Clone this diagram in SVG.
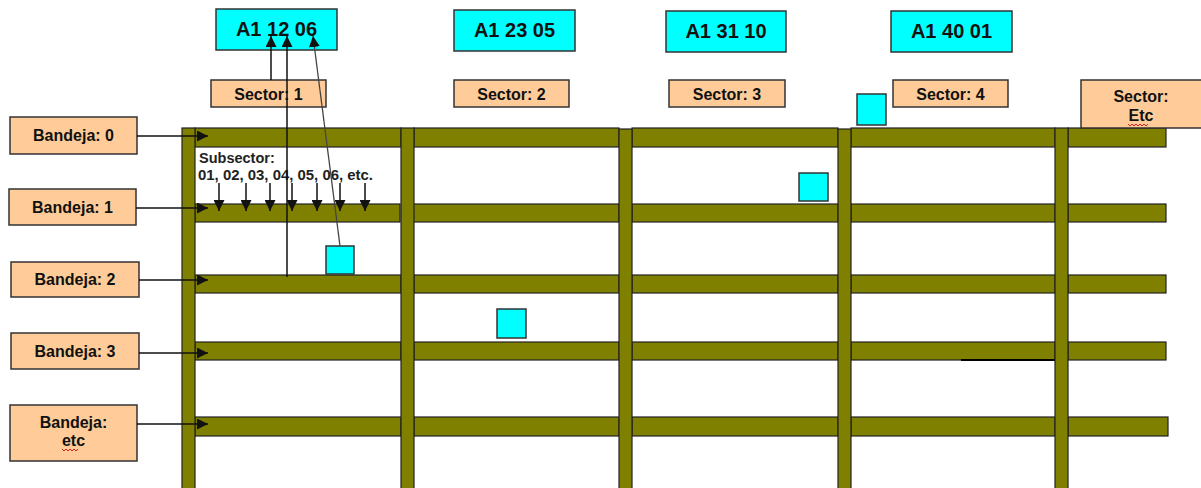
<svg xmlns="http://www.w3.org/2000/svg" width="1201" height="488" viewBox="0 0 1201 488">
<style>
.code{fill:#00FFFF;stroke:#333;stroke-width:1.5}
.lbl{fill:#FFCC99;stroke:#333;stroke-width:1.5}
.beam{fill:#808000;stroke:#222;stroke-width:1.2}
.sq{fill:#00FFFF;stroke:#333;stroke-width:1.5}
.t{font-family:"Liberation Sans",Arial,sans-serif;font-weight:bold;fill:#111;text-anchor:middle}
.t19{font-size:20px}
.t16{font-size:16px}
.sub{font-family:"Liberation Sans",Arial,sans-serif;font-weight:bold;font-size:14.5px;fill:#222}
.ln{stroke:#111;stroke-width:1.5;fill:none}
.wave{stroke:#e02020;stroke-width:1;fill:none}
</style>
<defs>
<marker id="ah" markerUnits="userSpaceOnUse" markerWidth="11" markerHeight="11" viewBox="0 0 10 10" refX="10" refY="5" orient="auto">
<path d="M0,0 L10,5 L0,10 z" fill="#111"/>
</marker>
</defs>
<rect width="1201" height="488" fill="#fff"/>

<g id="structure">
<rect class="beam" x="195" y="128" width="206" height="19"/>
<rect class="beam" x="414" y="128" width="205" height="19"/>
<rect class="beam" x="632" y="128" width="206" height="19"/>
<rect class="beam" x="851" y="128" width="204" height="19"/>
<rect class="beam" x="1068" y="128" width="98" height="19"/>

<rect class="beam" x="195" y="204" width="205" height="18"/>
<rect class="beam" x="413" y="204" width="206" height="18"/>
<rect class="beam" x="632" y="204" width="206" height="18"/>
<rect class="beam" x="851" y="204" width="204" height="18"/>
<rect class="beam" x="1068" y="204" width="98" height="18"/>

<rect class="beam" x="195" y="275" width="206" height="18"/>
<rect class="beam" x="414" y="275" width="205" height="18"/>
<rect class="beam" x="632" y="275" width="206" height="18"/>
<rect class="beam" x="851" y="275" width="204" height="18"/>
<rect class="beam" x="1068" y="275" width="98" height="18"/>

<rect class="beam" x="195" y="342" width="206" height="18"/>
<rect class="beam" x="414" y="342" width="205" height="18"/>
<rect class="beam" x="632" y="342" width="206" height="18"/>
<rect class="beam" x="851" y="342" width="204" height="18"/>
<rect class="beam" x="1068" y="342" width="98" height="18"/>
<line x1="961" y1="360" x2="1055" y2="360" stroke="#000" stroke-width="2"/>

<rect class="beam" x="195" y="417" width="206" height="19"/>
<rect class="beam" x="414" y="417" width="205" height="19"/>
<rect class="beam" x="632" y="417" width="206" height="19"/>
<rect class="beam" x="851" y="417" width="204" height="19"/>
<rect class="beam" x="1068" y="417" width="100" height="19"/>

<rect class="beam" x="182" y="128" width="13" height="362"/>
<rect class="beam" x="401" y="128" width="13" height="362"/>
<rect class="beam" x="619" y="129" width="13" height="361"/>
<rect class="beam" x="838" y="129" width="13" height="361"/>
<rect class="beam" x="1055" y="128" width="13" height="362"/>
</g>

<g id="code-1"><rect class="code" x="216" y="9" width="121" height="41"/><text class="t t19" x="276.5" y="36">A1 12 06</text></g>
<g id="code-2"><rect class="code" x="454" y="10" width="121" height="41"/><text class="t t19" x="514.5" y="37">A1 23 05</text></g>
<g id="code-3"><rect class="code" x="666" y="11" width="120" height="41"/><text class="t t19" x="726" y="38">A1 31 10</text></g>
<g id="code-4"><rect class="code" x="891" y="11" width="121" height="41"/><text class="t t19" x="951.5" y="38">A1 40 01</text></g>

<g id="sector-1"><rect class="lbl" x="211" y="80" width="115" height="27"/><text class="t t16" x="268.5" y="100">Sector: 1</text></g>
<g id="sector-2"><rect class="lbl" x="454" y="80" width="115" height="27"/><text class="t t16" x="511.5" y="100">Sector: 2</text></g>
<g id="sector-3"><rect class="lbl" x="669" y="80" width="116" height="27"/><text class="t t16" x="727" y="100">Sector: 3</text></g>
<g id="sector-4"><rect class="lbl" x="893" y="80" width="115" height="27"/><text class="t t16" x="950.5" y="100">Sector: 4</text></g>
<g id="sector-etc"><rect class="lbl" x="1081" y="80" width="122" height="48"/><text class="t t16" x="1141" y="102">Sector:</text><text class="t t16" x="1141" y="121">Etc</text><path class="wave" d="M1128,124 l2,2 l2,-2 l2,2 l2,-2 l2,2 l2,-2 l2,2 l2,-2 l2,2 l2,-2"/></g>

<g id="bandeja-0"><rect class="lbl" x="10" y="117" width="127" height="37"/><text class="t t16" x="73.5" y="141">Bandeja: 0</text></g>
<g id="bandeja-1"><rect class="lbl" x="9" y="189" width="127" height="36"/><text class="t t16" x="72.5" y="213">Bandeja: 1</text></g>
<g id="bandeja-2"><rect class="lbl" x="11" y="262" width="128" height="35"/><text class="t t16" x="75" y="285">Bandeja: 2</text></g>
<g id="bandeja-3"><rect class="lbl" x="11" y="333" width="128" height="36"/><text class="t t16" x="75" y="357">Bandeja: 3</text></g>
<g id="bandeja-etc"><rect class="lbl" x="10" y="405" width="127" height="56"/><text class="t t16" x="73.5" y="428">Bandeja:</text><text class="t t16" x="73.5" y="446">etc</text><path class="wave" d="M62,449 l2,2 l2,-2 l2,2 l2,-2 l2,2 l2,-2 l2,2 l2,-2"/></g>

<g id="subsector-label"><text class="sub" x="199" y="163">Subsector:</text><text class="sub" x="198" y="180" textLength="175" lengthAdjust="spacingAndGlyphs">01, 02, 03, 04, 05, 06, etc.</text></g>

<g id="boxes">
<rect class="sq" x="857" y="94" width="29" height="31"/>
<rect class="sq" x="799" y="173" width="29" height="28"/>
<rect class="sq" x="326" y="246" width="28" height="28"/>
<rect class="sq" x="497" y="309" width="29" height="29"/>
</g>

<g id="connectors">
<line class="ln" x1="137" y1="136" x2="208" y2="136" marker-end="url(#ah)"/>
<line class="ln" x1="136" y1="208" x2="208" y2="208" marker-end="url(#ah)"/>
<line class="ln" x1="139" y1="280" x2="208" y2="280" marker-end="url(#ah)"/>
<line class="ln" x1="139" y1="353" x2="208" y2="353" marker-end="url(#ah)"/>
<line class="ln" x1="137" y1="424" x2="208" y2="424" marker-end="url(#ah)"/>

<line class="ln" x1="219" y1="183" x2="219" y2="211" marker-end="url(#ah)"/>
<line class="ln" x1="246" y1="183" x2="246" y2="211" marker-end="url(#ah)"/>
<line class="ln" x1="270" y1="183" x2="270" y2="211" marker-end="url(#ah)"/>
<line class="ln" x1="292" y1="183" x2="292" y2="211" marker-end="url(#ah)"/>
<line class="ln" x1="317" y1="183" x2="317" y2="211" marker-end="url(#ah)"/>
<line class="ln" x1="340" y1="183" x2="340" y2="211" marker-end="url(#ah)"/>
<line class="ln" x1="365" y1="183" x2="365" y2="211" marker-end="url(#ah)"/>

<line class="ln" x1="271" y1="80" x2="271" y2="36" marker-end="url(#ah)"/>
<line class="ln" x1="287" y1="277" x2="287" y2="36" marker-end="url(#ah)"/>
<line x1="340" y1="246" x2="313" y2="36" stroke="#444" stroke-width="1.3" marker-end="url(#ah)"/>
</g>
</svg>
